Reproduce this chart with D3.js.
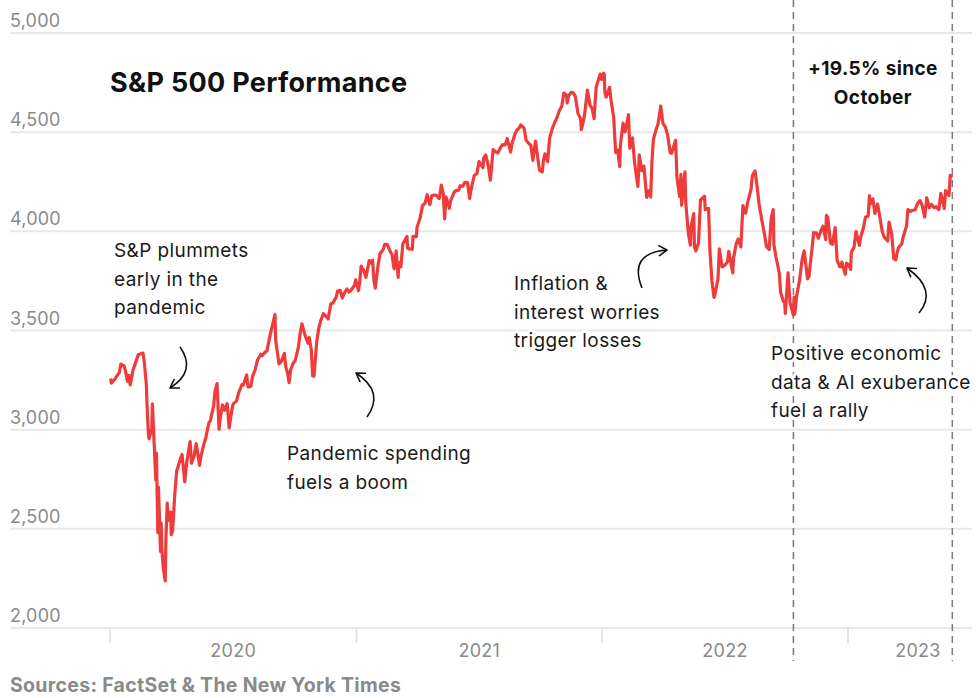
<!DOCTYPE html>
<html>
<head>
<meta charset="utf-8">
<script src="https://cdn.jsdelivr.net/npm/d3@7"></script>
<style>
  body { margin: 0; background: #fff; }
  svg { display: block; font-family: Inter, "Noto Sans", sans-serif; }
</style>
</head>
<body>
<svg id="chart"></svg>
<script>
// S&P 500 closes (MM-DD per year)
const dates2020 = ["01-02","01-03","01-08","01-10","01-15","01-17","01-22","01-24","01-27","01-29","01-31","02-04","02-07","02-12","02-14","02-19","02-21","02-24","02-25","02-27","02-28","03-03","03-04","03-06","03-09","03-10","03-12","03-13","03-16","03-17","03-18","03-20","03-23","03-24","03-26","03-27","03-31","04-01","04-03","04-06","04-09","04-14","04-17","04-21","04-24","04-29","05-01","05-05","05-08","05-13","05-15","05-19","05-22","05-27","05-29","06-03","06-05","06-08","06-11","06-12","06-16","06-19","06-23","06-26","06-30","07-02","07-07","07-10","07-15","07-17","07-22","07-24","07-28","07-31","08-04","08-07","08-12","08-14","08-18","08-21","08-26","08-28","09-02","09-03","09-04","09-08","09-10","09-11","09-16","09-18","09-21","09-23","09-25","09-29","10-02","10-07","10-09","10-12","10-16","10-21","10-23","10-26","10-28","10-30","11-03","11-06","11-09","11-13","11-18","11-20","11-24","11-27","12-02","12-04","12-08","12-11","12-15","12-18","12-21","12-24","12-29","12-31"];
const close2020 = [3258,3235,3253,3265,3289,3330,3321,3295,3244,3273,3226,3298,3328,3379,3380,3386,3338,3226,3128,2979,2954,3003,3130,2972,2747,2882,2481,2711,2386,2529,2398,2305,2237,2447,2630,2541,2585,2471,2489,2664,2790,2846,2875,2737,2837,2940,2831,2868,2930,2820,2864,2922,2955,3036,3044,3123,3194,3232,3002,3041,3125,3098,3131,3009,3100,3130,3145,3185,3227,3225,3276,3216,3218,3271,3306,3351,3380,3373,3390,3397,3479,3508,3580,3455,3427,3332,3339,3341,3385,3319,3281,3237,3298,3335,3348,3419,3477,3534,3484,3436,3465,3400,3271,3270,3443,3510,3550,3585,3567,3558,3635,3638,3669,3699,3702,3663,3695,3709,3694,3703,3727,3756];

const dates2021 = ["01-04","01-06","01-08","01-12","01-15","01-20","01-22","01-25","01-27","01-29","02-02","02-05","02-10","02-12","02-16","02-19","02-23","02-25","02-26","03-01","03-04","03-05","03-08","03-11","03-12","03-17","03-18","03-19","03-23","03-25","03-26","03-31","04-01","04-06","04-09","04-13","04-16","04-20","04-23","04-28","04-30","05-04","05-07","05-10","05-12","05-14","05-18","05-19","05-21","05-26","05-28","06-02","06-04","06-08","06-11","06-15","06-18","06-21","06-25","06-29","07-02","07-08","07-09","07-12","07-16","07-19","07-23","07-27","07-30","08-03","08-06","08-10","08-13","08-18","08-20","08-24","08-27","08-31","09-02","09-07","09-10","09-14","09-17","09-20","09-24","09-28","09-30","10-04","10-06","10-08","10-12","10-15","10-19","10-22","10-26","10-29","11-02","11-05","11-09","11-10","11-12","11-16","11-19","11-22","11-26","11-30","12-01","12-03","12-06","12-10","12-14","12-17","12-20","12-23","12-29","12-31"];
const close2021 = [3701,3748,3825,3801,3768,3852,3841,3855,3751,3714,3826,3887,3910,3934,3933,3907,3881,3829,3811,3901,3768,3842,3821,3939,3943,3974,3915,3913,3910,3909,3975,3973,4020,4074,4129,4142,4185,4135,4180,4183,4181,4165,4233,4189,4063,4174,4128,4116,4156,4196,4204,4208,4230,4227,4247,4246,4166,4224,4281,4292,4352,4321,4370,4385,4327,4258,4412,4401,4395,4423,4437,4436,4468,4400,4442,4486,4509,4523,4537,4520,4459,4443,4433,4358,4455,4353,4308,4300,4363,4391,4351,4471,4519,4545,4575,4605,4631,4697,4686,4647,4683,4701,4698,4682,4595,4567,4513,4538,4592,4712,4635,4620,4568,4726,4793,4766];

const dates2022 = ["01-03","01-04","01-05","01-07","01-12","01-14","01-18","01-21","01-24","01-27","01-28","02-01","02-04","02-09","02-11","02-15","02-18","02-23","02-24","02-25","03-01","03-04","03-08","03-11","03-14","03-16","03-18","03-22","03-25","03-29","04-01","04-05","04-08","04-12","04-14","04-20","04-22","04-26","04-28","04-29","05-04","05-05","05-09","05-12","05-13","05-17","05-18","05-20","05-24","05-27","06-02","06-03","06-08","06-10","06-13","06-16","06-17","06-22","06-24","06-28","07-01","07-06","07-08","07-14","07-15","07-19","07-22","07-26","07-29","08-02","08-05","08-10","08-12","08-16","08-19","08-22","08-26","08-30","09-02","09-06","09-09","09-12","09-13","09-16","09-21","09-23","09-27","09-29","09-30","10-04","10-07","10-12","10-13","10-14","10-17","10-21","10-25","10-28","11-02","11-04","11-10","11-11","11-15","11-18","11-22","11-25","11-29","11-30","12-02","12-06","12-09","12-13","12-16","12-20","12-22","12-23","12-28","12-30"];
const close2022 = [4797,4794,4701,4677,4726,4663,4577,4398,4410,4326,4432,4546,4501,4588,4419,4471,4349,4226,4288,4385,4306,4329,4171,4204,4173,4358,4463,4512,4543,4632,4546,4525,4488,4397,4393,4459,4272,4175,4287,4132,4300,4147,3991,3930,4024,4089,3923,3901,3941,4158,4177,4109,4116,3901,3750,3667,3675,3760,3912,3821,3825,3845,3899,3790,3863,3937,3962,3921,4130,4091,4145,4210,4280,4305,4228,4138,4058,3986,3924,3908,4067,4110,3932,3873,3790,3693,3647,3640,3586,3791,3640,3577,3669,3583,3678,3752,3859,3901,3760,3771,3956,3993,3992,3965,4004,4026,3958,4080,4072,3941,3934,4019,3852,3821,3822,3845,3783,3840];

const dates2023 = ["01-03","01-05","01-06","01-10","01-13","01-18","01-20","01-24","01-27","01-31","02-02","02-03","02-07","02-10","02-14","02-17","02-21","02-24","03-01","03-03","03-07","03-10","03-13","03-15","03-17","03-22","03-24","03-29","03-31","04-04","04-06","04-11","04-14","04-18","04-21","04-25","04-28","05-02","05-05","05-09","05-12","05-16","05-19","05-24","05-26","05-31","06-02","06-05"];
const close2023 = [3825,3808,3895,3919,3999,3929,3973,4017,4071,4077,4180,4136,4164,4090,4137,4079,3998,3970,3951,4046,3986,3862,3856,3892,3917,3937,3971,4027,4109,4101,4105,4109,4138,4155,4133,4072,4169,4119,4136,4119,4124,4110,4192,4115,4205,4180,4282,4273];

const yearLabels = ["2020", "2021", "2022", "2023"];
const yTicks = [2000, 2500, 3000, 3500, 4000, 4500, 5000];
const octoberLow = "2022-10-12";

const width = 976;
const height = 698;
const parse = d3.timeParse("%Y-%m-%d");

const data = [];
[["2020", dates2020, close2020], ["2021", dates2021, close2021],
 ["2022", dates2022, close2022], ["2023", dates2023, close2023]].forEach(([yr, ds, vs]) => {
  ds.forEach((d, i) => data.push({ date: parse(yr + "-" + d), value: vs[i] }));
});

const svg = d3.select("#chart").attr("width", width).attr("height", height);

const x = d3.scaleTime()
  .domain([parse("2020-01-01"), parse("2023-07-28")])
  .range([110, 988]);

const y = d3.scaleLinear()
  .domain([2000, 5000])
  .range([628, 33]);

// gridlines + y labels
const grid = svg.append("g");
grid.selectAll("line")
  .data(yTicks)
  .join("line")
  .attr("x1", 10)
  .attr("x2", 972)
  .attr("y1", d => y(d))
  .attr("y2", d => y(d))
  .attr("stroke", "#e8e8e8")
  .attr("stroke-width", 2);

grid.selectAll("text")
  .data(yTicks)
  .join("text")
  .attr("x", 10)
  .attr("y", d => y(d) - 6)
  .attr("fill", "#8a8a8a")
  .attr("font-size", 18)
  .attr("letter-spacing", 0.2)
  .text(d => d3.format(",")(d));

// x axis: ticks at year starts, labels centred in each year band
const yearStarts = yearLabels.map(yr => parse(yr + "-01-01"));
svg.append("g")
  .selectAll("line")
  .data(yearStarts)
  .join("line")
  .attr("x1", d => x(d))
  .attr("x2", d => x(d))
  .attr("y1", y(2000))
  .attr("y2", y(2000) + 15)
  .attr("stroke", "#e4e4e4")
  .attr("stroke-width", 2);

svg.append("g")
  .selectAll("text")
  .data(yearLabels)
  .join("text")
  .attr("x", (yr, i) => {
    const start = yearStarts[i];
    const end = i < yearStarts.length - 1 ? yearStarts[i + 1] : x.domain()[1];
    return (x(start) + x(end)) / 2;
  })
  .attr("y", 657)
  .attr("text-anchor", "middle")
  .attr("fill", "#8a8a8a")
  .attr("font-size", 18)
  .attr("letter-spacing", 0.3)
  .text(d => d);

// dashed markers: October low and latest value
const lowDate = parse(octoberLow);
const last = data[data.length - 1];
const lowPoint = data.find(d => +d.date === +lowDate);
svg.append("g")
  .selectAll("line")
  .data([lowDate, last.date])
  .join("line")
  .attr("x1", d => x(d))
  .attr("x2", d => x(d))
  .attr("y1", 0)
  .attr("y2", 661)
  .attr("stroke", "#7a7a7a")
  .attr("stroke-width", 1.5)
  .attr("stroke-dasharray", "7,5");

// the line
const line = d3.line()
  .x(d => x(d.date))
  .y(d => y(d.value));

svg.append("path")
  .datum(data)
  .attr("d", line)
  .attr("fill", "none")
  .attr("stroke", "#ef3b3b")
  .attr("stroke-width", 3.2)
  .attr("stroke-linejoin", "round");

// title
svg.append("text")
  .attr("x", 110)
  .attr("y", 92)
  .attr("font-size", 27)
  .attr("font-weight", 700)
  .attr("letter-spacing", 0.3)
  .attr("fill", "#111")
  .text("S&P 500 Performance");

// gain since October
const gain = last.value / lowPoint.value - 1;
const gainText = svg.append("text")
  .attr("text-anchor", "middle")
  .attr("font-size", 19)
  .attr("font-weight", 700)
  .attr("letter-spacing", 0.4)
  .attr("fill", "#111");
const midX = (x(lowDate) + x(last.date)) / 2;
gainText.append("tspan").attr("x", midX).attr("y", 75)
  .text("+" + d3.format(".1%")(gain) + " since");
gainText.append("tspan").attr("x", midX).attr("y", 104).text("October");

// annotations
const notes = [
  { x: 114, y: 257, lines: ["S&P plummets", "early in the", "pandemic"] },
  { x: 287, y: 460, lines: ["Pandemic spending", "fuels a boom"] },
  { x: 514, y: 290, lines: ["Inflation &", "interest worries", "trigger losses"] },
  { x: 771, y: 360, lines: ["Positive economic", "data & AI exuberance", "fuel a rally"] }
];

const noteG = svg.append("g");
notes.forEach(n => {
  const t = noteG.append("text")
    .attr("font-size", 19)
    .attr("letter-spacing", 0.4)
    .attr("fill", "#1a1a1a")
    .attr("stroke", "#fff")
    .attr("stroke-width", 6)
    .attr("stroke-linejoin", "round")
    .attr("paint-order", "stroke");
  n.lines.forEach((l, i) => {
    t.append("tspan").attr("x", n.x).attr("y", n.y + i * 28.7).text(l);
  });
});

// arrows
svg.append("defs").append("marker")
  .attr("id", "head")
  .attr("viewBox", "-9 -6 11 12")
  .attr("markerWidth", 11)
  .attr("markerHeight", 12)
  .attr("markerUnits", "userSpaceOnUse")
  .attr("orient", "auto")
  .append("path")
  .attr("d", "M-8,-5 L0,0 L-8,5")
  .attr("fill", "none")
  .attr("stroke", "#111")
  .attr("stroke-width", 1.6)
  .attr("stroke-linecap", "round")
  .attr("stroke-linejoin", "round");

const arrows = [
  "M180,347 Q197,371 170,388",
  "M367,417 Q385,392 356,373",
  "M642,288 Q628,253 667,250",
  "M919,313 Q938,290 907,268"
];
svg.append("g")
  .selectAll("path")
  .data(arrows)
  .join("path")
  .attr("d", d => d)
  .attr("fill", "none")
  .attr("stroke", "#111")
  .attr("stroke-width", 1.6)
  .attr("marker-end", "url(#head)");

// source
svg.append("text")
  .attr("x", 10)
  .attr("y", 692)
  .attr("font-size", 19.5)
  .attr("font-weight", 700)
  .attr("letter-spacing", 0.3)
  .attr("fill", "#8a8a8a")
  .text("Sources: FactSet & The New York Times");
</script>
</body>
</html>
